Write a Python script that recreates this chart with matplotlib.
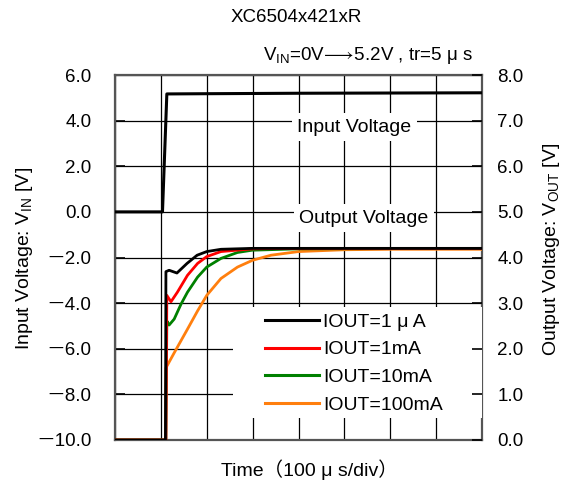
import matplotlib
matplotlib.use('Agg')
import matplotlib.pyplot as plt
from matplotlib.lines import Line2D
from matplotlib.patches import Rectangle
import numpy as np

FONTE = ['Liberation Sans', 'Noto Sans CJK JP', 'DejaVu Sans']
plt.rcParams['font.family'] = FONTE
plt.rcParams['mathtext.fontset'] = 'custom'
plt.rcParams['mathtext.rm'] = 'Liberation Sans'

# tempo em us (100us/div)
t_in = [0, 103.5, 113, 200, 400, 800]
v_in = [0.0, 0.0, 5.17, 5.18, 5.2, 5.22]

t_1ua = [0, 110, 111, 118, 135, 157, 179, 200, 231, 299, 400, 800]
v_1ua = [0.0, 0.0, 3.69, 3.72, 3.66, 3.87, 4.05, 4.13, 4.18, 4.2, 4.2, 4.2]

t_1ma = [0, 111, 113, 122, 136, 158, 180, 200, 231, 300, 400, 800]
v_1ma = [0.0, 0.0, 3.17, 3.03, 3.24, 3.61, 3.87, 4.02, 4.13, 4.19, 4.2, 4.2]

t_10ma = [0, 111, 113, 118, 129, 144, 158, 180, 200, 231, 267, 299, 400, 800]
v_10ma = [0.0, 0.0, 2.61, 2.52, 2.65, 2.98, 3.24, 3.57, 3.79, 3.98, 4.11, 4.16, 4.19, 4.2]

t_100ma = [0, 110, 111, 129, 158, 180, 200, 231, 267, 300, 340, 400, 500, 600, 800]
v_100ma = [0.0, 0.0, 1.58, 1.91, 2.43, 2.83, 3.17, 3.54, 3.79, 3.94, 4.05, 4.13, 4.17, 4.18, 4.18]

legendas = ['IOUT=1 μ A', 'IOUT=1mA', 'IOUT=10mA', 'IOUT=100mA']
cores = ['black', 'red', 'green', '#ff7f0e']

ticks_esq = np.arange(-10, 6.1, 2)
ticks_dir = np.arange(0, 8.1, 1)

fig = plt.figure(figsize=(5.7, 4.82), dpi=100)
ax = fig.add_axes([115/570, 1-440/482, 367/570, 365/482])
ax2 = ax.twinx()

ax.set_xlim(0, 800)
ax.set_ylim(-10, 6)
ax2.set_ylim(0, 8)
ax.set_xticks(np.arange(0, 801, 100))
ax.set_xticklabels([])
ax.set_yticks(ticks_esq)
ax.set_yticklabels(['%.1f' % v if v >= 0 else '\uff0d%.1f' % -v for v in ticks_esq])
ax2.set_yticks(ticks_dir)
ax2.set_yticklabels(['%.1f' % v for v in ticks_dir])
ax.grid(True, color='black', linewidth=0.9)
ax.tick_params(axis='x', length=0)
ax.tick_params(axis='y', direction='in', length=7, width=1.2, labelsize=13.5, pad=17)
ax2.tick_params(axis='y', direction='in', length=7, width=1.2, labelsize=13.5, pad=11)
for s in ax.spines.values():
    s.set_color('#555555')
    s.set_linewidth(1.6)
for s in ax2.spines.values():
    s.set_visible(False)

ax.plot(t_in, v_in, color='black', linewidth=2.2, zorder=5)

#SAIDAS
ax2.plot(t_100ma, v_100ma, color=cores[3], linewidth=2.0, zorder=5)
ax2.plot(t_10ma, v_10ma, color=cores[2], linewidth=2.0, zorder=6)
ax2.plot(t_1ma, v_1ma, color=cores[1], linewidth=2.0, zorder=7)
ax2.plot(t_1ua, v_1ua, color=cores[0], linewidth=2.0, zorder=8)

# caixas brancas por cima da grade (ficam no ax, abaixo dos ticks do ax2)
ax.text(522, 3.72, 'Input Voltage', fontsize=14, ha='center', va='center',
        bbox=dict(facecolor='white', edgecolor='none', pad=4), zorder=3)
ax.text(543, -0.27, 'Output Voltage', fontsize=14, ha='center', va='center',
        bbox=dict(facecolor='white', edgecolor='none', pad=4), zorder=3)

# fundo branco da legenda
ax.add_patch(Rectangle((257, -9.05), 543, 4.87, facecolor='white', edgecolor='none', zorder=3))
handles = [Line2D([0], [0], color=c, linewidth=2.2) for c in cores]
leg = ax.legend(handles, legendas, loc='upper left', bbox_to_anchor=(150/367, 127/365),
                frameon=False, prop={'size': 14}, handlelength=2.8, labelspacing=0.52,
                borderpad=0, handletextpad=0.2, borderaxespad=0)
leg.set_zorder(4)

fig.text(25/570, 1-258/482, 'Input Voltage: V$_{\\rm IN}$ [V]', fontsize=14,
         rotation=90, ha='center', va='center')
fig.text(552/570, 1-249/482, 'Output Voltage: V$_{\\rm OUT}$ [V]', fontsize=14,
         rotation=90, ha='center', va='center')
fig.text(309/570, 1-470/482, 'Time\uff08100 μ s/div\uff09', fontsize=14, ha='center', va='center')

fig.text(296/570, 1-17/482, 'XC6504x421xR', fontsize=13.5, ha='center', va='center')
fig.text(368/570, 1-55/482, 'V$_{\\rm IN}$=0V$\\!\\longrightarrow\\!$5.2V , tr=5 μ s', fontsize=13.5,
         ha='center', va='center')

fig.savefig('out.png', dpi=100)
